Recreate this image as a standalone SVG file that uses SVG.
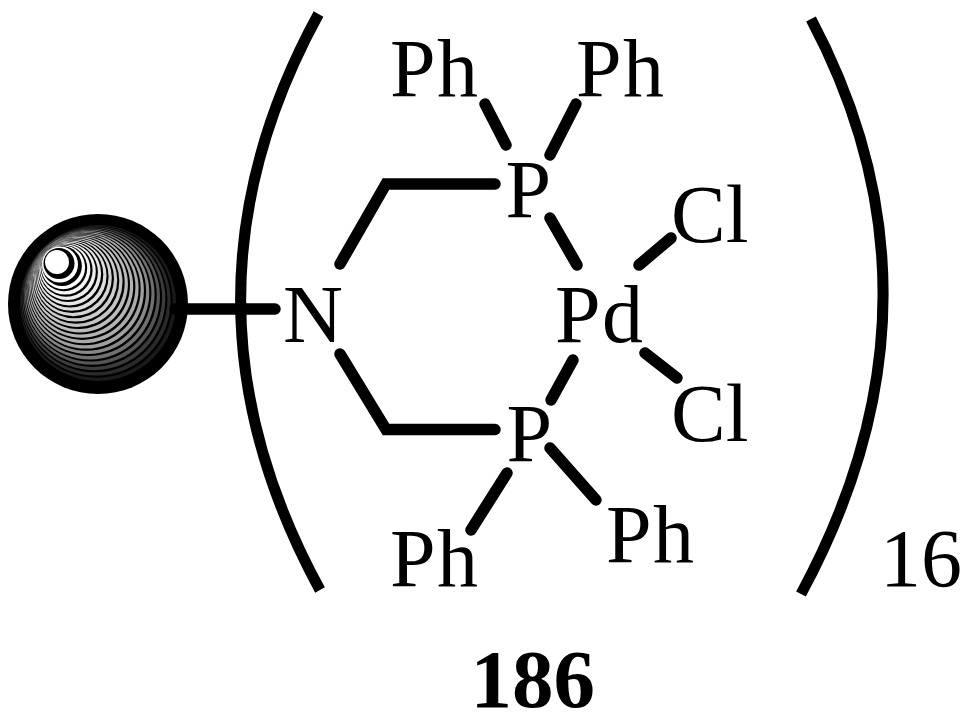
<svg xmlns="http://www.w3.org/2000/svg" width="971" height="722" viewBox="0 0 971 722">
<style>
text{font-family:"Liberation Serif","Times New Roman",serif;font-size:82px;fill:#000}
.ph{letter-spacing:1.5px}
.big{font-size:83px}
.b{fill:none;stroke:#000;stroke-width:11.5;stroke-linecap:round;stroke-linejoin:miter}
.p{fill:none;stroke:#000;stroke-width:11}
.k{fill:#000}
</style>
<rect width="971" height="722" fill="#fff"/>
<g id="sphere">
<circle cx="98" cy="304" r="90" fill="#000"/>
<circle cx="98" cy="303" r="78" fill="#1a1a1a"/><circle class="k" cx="96.8" cy="301.7" r="76"/>
<circle cx="95.9" cy="300.9" r="74.7" fill="#2a2a2a"/><circle class="k" cx="94.7" cy="299.6" r="72.7"/>
<circle cx="93.9" cy="298.8" r="71.4" fill="#3c3c3c"/><circle class="k" cx="92.7" cy="297.5" r="69.4"/>
<circle cx="91.9" cy="296.7" r="68.1" fill="#555"/><circle class="k" cx="90.7" cy="295.4" r="66.1"/>
<circle cx="89.8" cy="294.6" r="64.8" fill="#707070"/><circle class="k" cx="88.6" cy="293.3" r="62.8"/>
<circle cx="87.8" cy="292.5" r="61.5" fill="#888"/><circle class="k" cx="86.6" cy="291.2" r="59.5"/>
<circle cx="85.7" cy="290.4" r="58.2" fill="#a0a0a0"/><circle class="k" cx="84.5" cy="289.1" r="56.2"/>
<circle cx="83.7" cy="288.3" r="54.9" fill="#aaa"/><circle class="k" cx="82.5" cy="287" r="52.9"/>
<circle cx="81.6" cy="286.2" r="51.6" fill="#b3b3b3"/><circle class="k" cx="80.4" cy="284.9" r="49.6"/>
<circle cx="79.6" cy="284.1" r="48.3" fill="#bbb"/><circle class="k" cx="78.4" cy="282.8" r="46.3"/>
<circle cx="77.5" cy="282" r="45" fill="#c4c4c4"/><circle class="k" cx="76.3" cy="280.7" r="43"/>
<circle cx="75.5" cy="279.9" r="41.7" fill="#ccc"/><circle class="k" cx="74.3" cy="278.6" r="39.7"/>
<circle cx="73.4" cy="277.8" r="38.4" fill="#d4d4d4"/><circle class="k" cx="72.2" cy="276.5" r="36.4"/>
<circle cx="71.4" cy="275.7" r="35.1" fill="#ddd"/><circle class="k" cx="70.2" cy="274.4" r="33.1"/>
<circle cx="69.3" cy="273.6" r="31.8" fill="#e6e6e6"/><circle class="k" cx="68.1" cy="272.3" r="29.8"/>
<circle cx="67.3" cy="271.5" r="28.5" fill="#eee"/><circle class="k" cx="66.1" cy="270.2" r="26.5"/>
<circle cx="65.2" cy="269.4" r="25.2" fill="#f5f5f5"/><circle class="k" cx="64" cy="268.1" r="23.2"/>
<circle cx="63.2" cy="267.3" r="21.9" fill="#fff"/><circle class="k" cx="62" cy="266" r="19.9"/>
<circle cx="60" cy="264.5" r="18" fill="#fff"/><circle class="k" cx="59" cy="263.5" r="15.5"/>
<circle cx="57" cy="262" r="12" fill="#fff"/>
</g>
<g id="connectors">
<path class="b" d="M175 309H275"/>
<path class="b" d="M340 264L386 184H495"/>
<path class="b" d="M340 354L386 429.5H495"/>
<path class="b" d="M485 104L506 145"/>
<path class="b" d="M576 104L550 155"/>
<path class="b" d="M550 218L577 265"/>
<path class="b" d="M573 360L551 400"/>
<path class="b" d="M507 473L471 530"/>
<path class="b" d="M550 448L596 500"/>
<path class="b" d="M639 265L671 238"/>
<path class="b" d="M645 353L677 378"/>
<path class="p" d="M318.5 14Q162 300 320 590"/>
<path class="p" d="M811 19Q960 300 801 594"/>
</g>
<g id="N"><text class="big" x="283" y="342">N</text></g>
<g id="P1"><text x="505.5" y="217">P</text></g>
<g id="P2"><text x="506.5" y="461">P</text></g>
<g id="Pd"><text class="ph" x="555" y="342">Pd</text></g>
<g id="Cl1"><text x="671" y="242">Cl</text></g>
<g id="Cl2"><text x="671" y="441">Cl</text></g>
<g id="Ph1"><text class="ph" x="390" y="96">Ph</text></g>
<g id="Ph2"><text class="ph" x="576" y="96">Ph</text></g>
<g id="Ph3"><text class="ph" x="390" y="586">Ph</text></g>
<g id="Ph4"><text class="ph" x="606" y="562">Ph</text></g>
<g id="n16"><text x="880" y="586">16</text></g>
<g id="label"><text class="big" x="470.5" y="707" font-weight="bold">186</text></g>
</svg>
